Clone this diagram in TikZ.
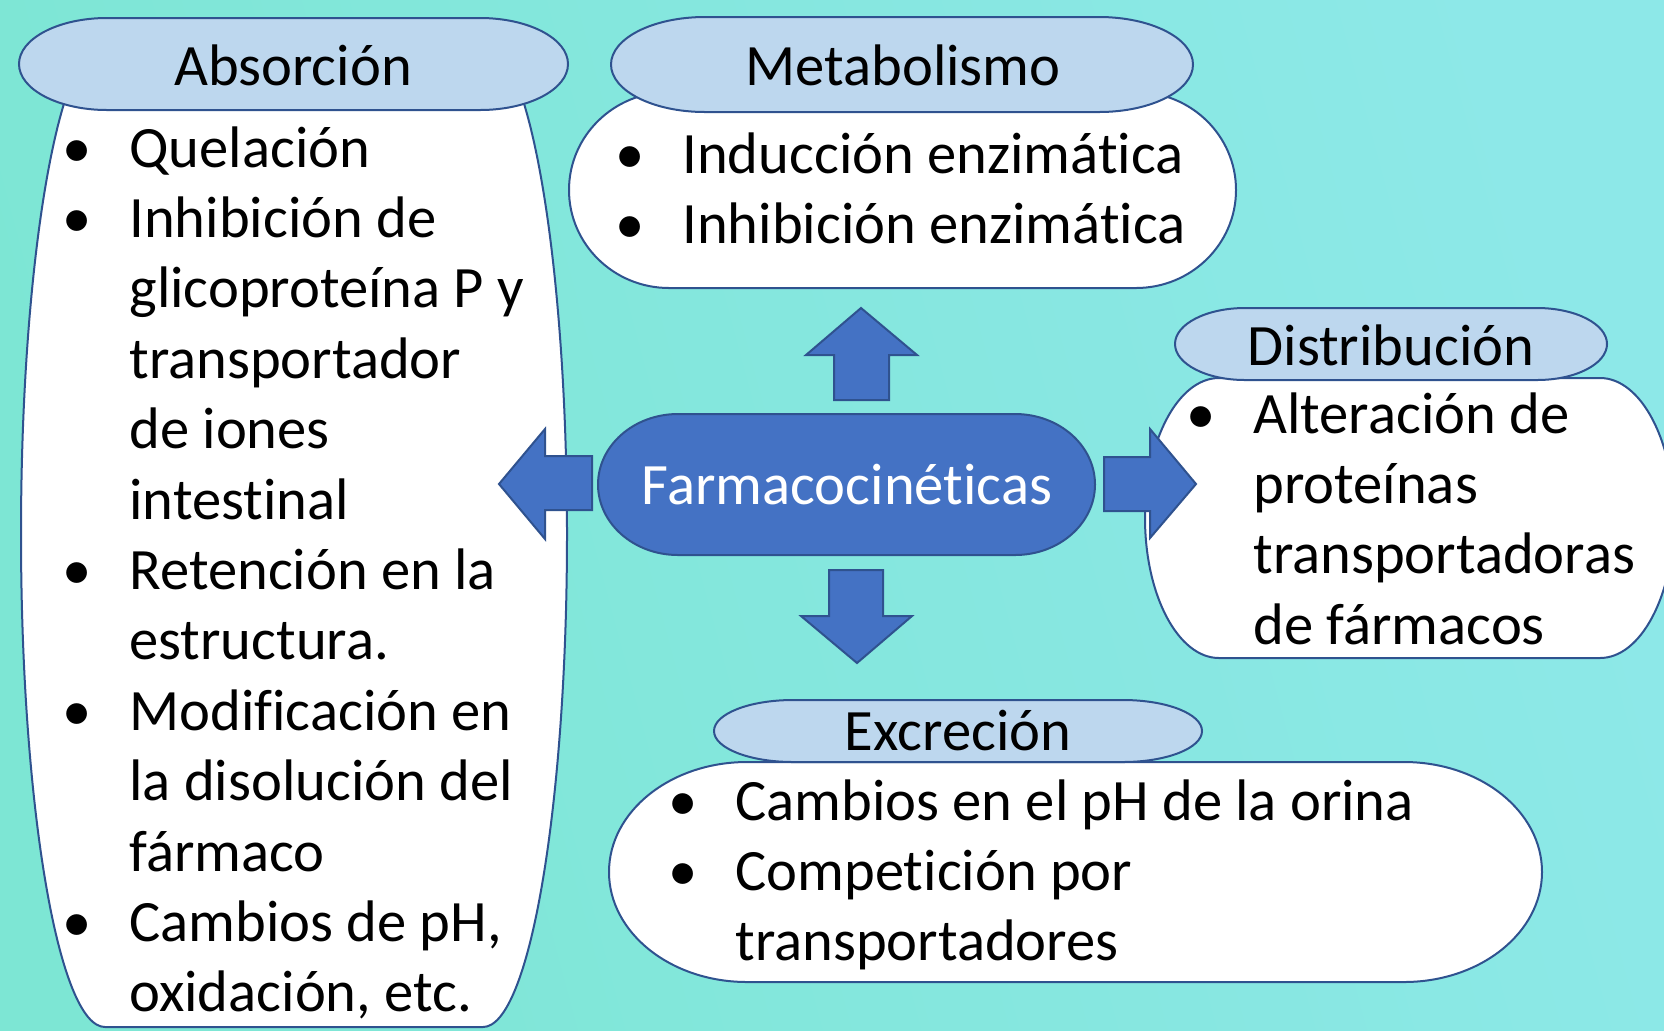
\documentclass[tikz,border=0pt]{standalone}
\usepackage{fontspec}
\setmainfont{Carlito}[Ligatures={NoCommon,NoRequired,NoContextual,NoRare}]
\usetikzlibrary{positioning}
\definecolor{bgteal}{HTML}{7DE6D4}
\definecolor{bgcyan}{HTML}{8DE8E8}
\definecolor{hdrblue}{HTML}{BDD7EE}
\definecolor{edgeblue}{HTML}{2F528F}
\definecolor{midblue}{HTML}{4472C4}

% pill outline: x1, y1, x2, y2, end radius
\newcommand{\pillpath}[5]{%
  (#1+#5,#2) -- (#3-#5,#2)
  arc[start angle=-90,end angle=90,x radius=#5,y radius={(#4-#2)/2}]
  -- (#1+#5,#4)
  arc[start angle=90,end angle=270,x radius=#5,y radius={(#4-#2)/2}]
  -- cycle}
\newcommand{\itm}{\makebox[26pt][l]{\makebox[0pt]{\textbullet}}}
\newcommand{\cnt}{\hspace*{26pt}}
\newcommand{\blist}[1]{\begin{tabular}[t]{@{}l@{}}#1\end{tabular}}

\begin{document}
\begin{tikzpicture}[x=0.5pt,y=-0.5pt,
  every node/.style={inner sep=0pt,font=\fontsize{29.3}{35.2}\selectfont},
  hdr/.style={fill=hdrblue,draw=edgeblue,line width=1pt},
  bodyshape/.style={fill=white,draw=edgeblue,line width=1pt},
  blockarrow/.style={fill=midblue,draw=edgeblue,line width=1pt},
  listtxt/.style={anchor=base west},
  hdrtxt/.style={anchor=base}]

  % ---- Background ---------------------------------------------
  \clip (0,0) rectangle (1664,1030);
  \shade[left color=bgteal,right color=bgcyan,shading angle=105]
    (0,0) rectangle (1664,1030);

  % ============================================================
  %  LEFT: Absorcion
  % ============================================================
  \draw[bodyshape] \pillpath{21}{41}{567}{1027}{84};
  \draw[hdr] \pillpath{19}{18}{568}{110}{88};
  \node[hdrtxt] (absHead) at (293,85) {Absorción};
  \node[listtxt] (absList) at (77,167) {\blist{%
    \itm Quelación\\
    \itm Inhibición de\\
    \cnt glicoproteína P y\\
    \cnt transportador\\
    \cnt de iones\\
    \cnt intestinal\\
    \itm Retención en la\\
    \cnt estructura.\\
    \itm Modificación en\\
    \cnt la disolución del\\
    \cnt fármaco\\
    \itm Cambios de pH,\\
    \cnt oxidación, etc.}};

  % ============================================================
  %  TOP: Metabolismo
  % ============================================================
  \draw[bodyshape] \pillpath{569}{92}{1236}{288}{100};
  \draw[hdr] \pillpath{611}{17}{1193}{112}{94};
  \node[hdrtxt] (metHead) at (903,85) {Metabolismo};
  \node[listtxt] (metList) at (630,173) {\blist{%
    \itm Inducción enzimática\\
    \itm Inhibición enzimática}};

  % ============================================================
  %  RIGHT: Distribucion
  % ============================================================
  \draw[bodyshape] \pillpath{1145}{378}{1674}{658}{74};
  \draw[hdr] \pillpath{1175}{308}{1607}{380}{70};
  \node[hdrtxt] (disHead) at (1391,365) {Distribución};
  \node[listtxt] (disList) at (1201,433) {\blist{%
    \itm Alteración de\\
    \cnt proteínas\\
    \cnt transportadoras\\
    \cnt de fármacos}};

  % ============================================================
  %  BOTTOM: Excrecion
  % ============================================================
  \draw[bodyshape] \pillpath{609}{762}{1542}{982}{138};
  \draw[hdr] \pillpath{714}{700}{1202}{762}{79};
  \node[hdrtxt] (excHead) at (958,750) {Excreción};
  \node[listtxt] (excList) at (683,820) {\blist{%
    \itm Cambios en el pH de la orina\\
    \itm Competición por\\
    \cnt transportadores}};

  % ============================================================
  %  CENTRE: Farmacocineticas and block arrows
  % ============================================================
  \draw[blockarrow] \pillpath{598}{414}{1095}{555}{80};
  \node[hdrtxt,text=white] (farma) at (847,504) {Farmacocinéticas};

  % Up
  \draw[blockarrow] (834,400) -- (834,355) -- (806,355) -- (861,308)
    -- (917,355) -- (889,355) -- (889,400) -- cycle;
  % Down
  \draw[blockarrow] (829,570) -- (883,570) -- (883,616) -- (912,616)
    -- (857,663) -- (801,616) -- (829,616) -- cycle;
  % Left
  \draw[blockarrow] (592,456) -- (545,456) -- (545,429) -- (499,484)
    -- (545,539) -- (545,510) -- (592,510) -- cycle;
  % Right
  \draw[blockarrow] (1104,457) -- (1150,457) -- (1150,429) -- (1196,484)
    -- (1150,538) -- (1150,511) -- (1104,511) -- cycle;

\end{tikzpicture}
\end{document}
